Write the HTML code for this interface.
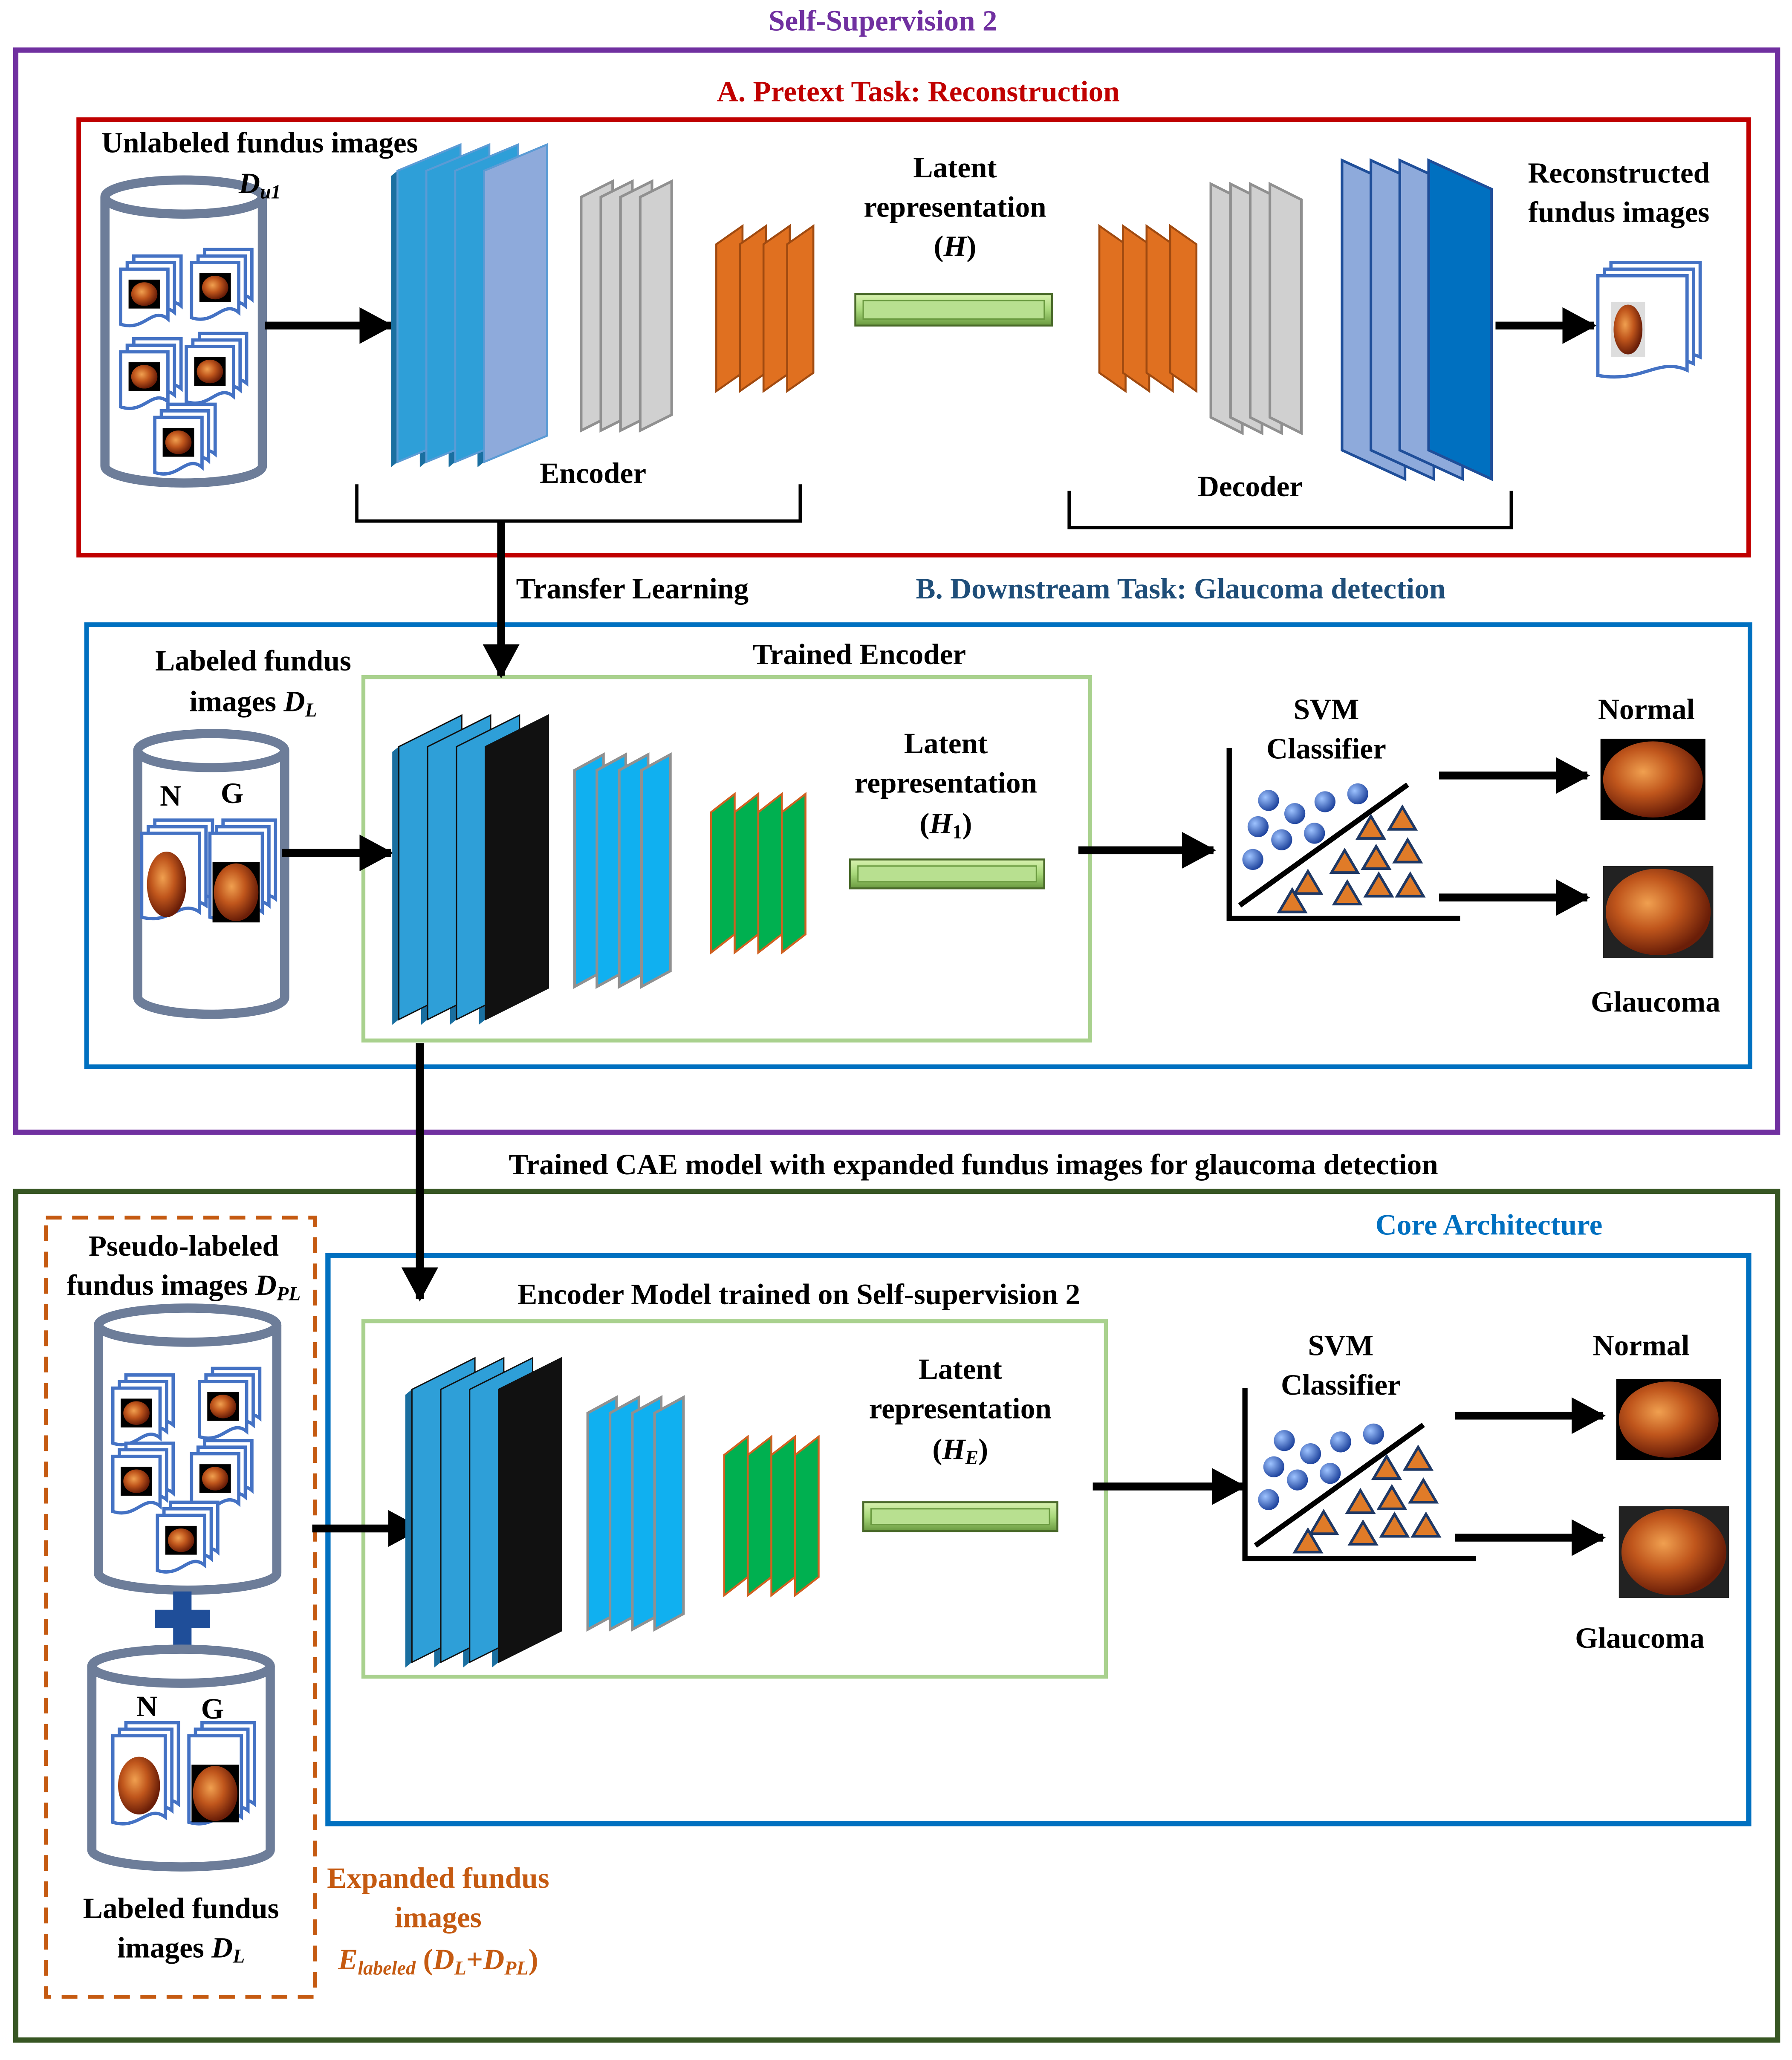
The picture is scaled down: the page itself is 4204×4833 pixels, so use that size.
<!DOCTYPE html>
<html><head><meta charset="utf-8">
<style>
html,body{margin:0;padding:0;background:#fff}
svg{display:block}
text{font-family:"Liberation Serif",serif;font-weight:bold}
</style></head>
<body>
<svg width="4204" height="4833" viewBox="0 0 1366 1570" xmlns="http://www.w3.org/2000/svg" xmlns:xlink="http://www.w3.org/1999/xlink">
<defs>
<radialGradient id="fg" cx="0.4" cy="0.4" r="0.6">
<stop offset="0" stop-color="#f0a050"/><stop offset="0.5" stop-color="#c0561c"/><stop offset="1" stop-color="#6a1e08"/>
</radialGradient>
<linearGradient id="bar" x1="0" y1="0" x2="0" y2="1">
<stop offset="0" stop-color="#d9f2b0"/><stop offset="0.5" stop-color="#a8d87a"/><stop offset="1" stop-color="#6a9a40"/>
</linearGradient>
<radialGradient id="ball" cx="0.35" cy="0.35" r="0.7">
<stop offset="0" stop-color="#9ec3ff"/><stop offset="1" stop-color="#1a3f9a"/>
</radialGradient>
<marker id="ah" markerUnits="userSpaceOnUse" markerWidth="26" markerHeight="28" refX="24" refY="14" orient="auto">
<path d="M0 0L26 14L0 28z" fill="#000"/>
</marker>
<g id="sd">
<path d="M10 -10h36v38c-12 -10 -18 10 -36 4z" fill="#fff" stroke="#4472c4" stroke-width="2.5"/>
<path d="M5 -5h36v38c-12 -10 -18 10 -36 4z" fill="#fff" stroke="#4472c4" stroke-width="2.5"/>
<path d="M0 0h36v38c-12 -10 -18 10 -36 4z" fill="#fff" stroke="#4472c4" stroke-width="2.5"/>
<rect x="6" y="8" width="24" height="22" fill="#000"/>
<ellipse cx="18" cy="19" rx="10" ry="9" fill="url(#fg)"/>
</g>
<g id="encB">
<g fill="#1a6fa0">
<polygon points="299,573 304,569 304,777 299,781"/><polygon points="321,573 326,569 326,777 321,781"/>
<polygon points="343,573 348,569 348,777 343,781"/><polygon points="365,573 370,569 370,777 365,781"/>
</g>
<polygon points="304,569 352,545 352,753 304,777" fill="#2e9fd8" stroke="#111"/>
<polygon points="326,569 374,545 374,753 326,777" fill="#2e9fd8" stroke="#111"/>
<polygon points="348,569 396,545 396,753 348,777" fill="#2e9fd8" stroke="#111"/>
<polygon points="370,569 418,545 418,753 370,777" fill="#111" stroke="#111"/>
<g fill="#10b0f0" stroke="#909090" stroke-width="2">
<polygon points="438,587 460,575 460,740 438,752"/><polygon points="455,587 477,575 477,740 455,752"/>
<polygon points="472,587 494,575 494,740 472,752"/><polygon points="489,587 511,575 511,740 489,752"/>
</g>
<g fill="#00b050" stroke="#d06020" stroke-width="1.5">
<polygon points="542,619 560,605 560,712 542,726"/><polygon points="560,619 578,605 578,712 560,726"/>
<polygon points="578,619 596,605 596,712 578,726"/><polygon points="596,619 614,605 614,712 596,726"/>
</g>
<rect x="648" y="655" width="148" height="22" fill="url(#bar)" stroke="#4a6a2a" stroke-width="1.5"/>
<rect x="654" y="660" width="136" height="12" fill="#b8e090" stroke="#6a9a40"/>
</g>
<g id="clsB">
<path d="M937 570V700H1113" fill="none" stroke="#000" stroke-width="4"/>
<line x1="945" y1="690" x2="1073" y2="598" stroke="#000" stroke-width="4"/>
<g fill="url(#ball)">
<circle cx="967" cy="610" r="8"/><circle cx="987" cy="620" r="8"/><circle cx="1010" cy="611" r="8"/><circle cx="1035" cy="605" r="8"/>
<circle cx="959" cy="630" r="8"/><circle cx="977" cy="640" r="8"/><circle cx="1002" cy="635" r="8"/><circle cx="955" cy="655" r="8"/>
</g>
<g fill="#e07b28" stroke="#1f3864" stroke-width="2">
<polygon points="1069,615 1079,632 1059,632"/><polygon points="1045,622 1055,639 1035,639"/>
<polygon points="1025,648 1035,665 1015,665"/><polygon points="1049,645 1059,662 1039,662"/>
<polygon points="1073,640 1083,657 1063,657"/><polygon points="1075,666 1085,683 1065,683"/>
<polygon points="1051,666 1061,683 1041,683"/><polygon points="1027,672 1037,689 1017,689"/>
<polygon points="997,664 1007,681 987,681"/><polygon points="985,678 995,695 975,695"/>
</g>
<line x1="1097" y1="591" x2="1210" y2="591" stroke="#000" stroke-width="6" marker-end="url(#ah)"/>
<line x1="1097" y1="684" x2="1210" y2="684" stroke="#000" stroke-width="6" marker-end="url(#ah)"/>
<rect x="1220" y="563" width="80" height="62" fill="#000"/>
<ellipse cx="1260" cy="594" rx="38" ry="29" fill="url(#fg)"/>
<rect x="1222" y="660" width="84" height="70" fill="#222"/>
<ellipse cx="1264" cy="695" rx="40" ry="33" fill="url(#fg)"/>
</g>
</defs>

<!-- frames -->
<rect x="12" y="38" width="1343" height="825" fill="none" stroke="#7030a0" stroke-width="4"/>
<rect x="60" y="91" width="1273" height="332" fill="none" stroke="#c00000" stroke-width="3.5"/>
<rect x="66" y="476" width="1268" height="337" fill="none" stroke="#0070c0" stroke-width="3.5"/>
<rect x="277" y="516" width="554" height="277" fill="none" stroke="#a9d18e" stroke-width="3"/>
<rect x="12" y="908" width="1343" height="647" fill="none" stroke="#375623" stroke-width="4"/>
<rect x="250" y="957" width="1083" height="433" fill="none" stroke="#0070c0" stroke-width="4"/>
<rect x="277" y="1007" width="566" height="271" fill="none" stroke="#a9d18e" stroke-width="3"/>
<rect x="35" y="928" width="205" height="594" fill="none" stroke="#c55a11" stroke-width="3" stroke-dasharray="12,8"/>

<!-- Section A -->
<path d="M80 150V355A60 13 0 0 0 200 355V150" fill="#fff" stroke="#6d7d99" stroke-width="7"/>
<ellipse cx="140" cy="150" rx="60" ry="13" fill="#fff" stroke="#6d7d99" stroke-width="7"/>
<use xlink:href="#sd" x="92" y="205"/><use xlink:href="#sd" x="146" y="200"/>
<use xlink:href="#sd" x="92" y="268"/><use xlink:href="#sd" x="142" y="264"/>
<use xlink:href="#sd" x="118" y="318"/>
<line x1="202" y1="248" x2="298" y2="248" stroke="#000" stroke-width="6" marker-end="url(#ah)"/>
<g fill="#1a6fa0">
<polygon points="298,134 303,130 303,352 298,356"/><polygon points="320,134 325,130 325,352 320,356"/>
<polygon points="342,134 347,130 347,352 342,356"/><polygon points="364,134 369,130 369,352 364,356"/>
</g>
<g stroke="#5b9bd5" stroke-width="1.5">
<polygon points="303,130 351,110 351,332 303,352" fill="#2e9fd8"/>
<polygon points="325,130 373,110 373,332 325,352" fill="#2e9fd8"/>
<polygon points="347,130 395,110 395,332 347,352" fill="#2e9fd8"/>
<polygon points="369,130 417,110 417,332 369,352" fill="#8eaadb"/>
</g>
<g fill="#d0d0d0" stroke="#909090" stroke-width="2">
<polygon points="443,150 467,138 467,316 443,328"/><polygon points="458,150 482,138 482,316 458,328"/>
<polygon points="473,150 497,138 497,316 473,328"/><polygon points="488,150 512,138 512,316 488,328"/>
</g>
<g fill="#e07020" stroke="#a04a10" stroke-width="1.5">
<polygon points="546,186 566,172 566,284 546,298"/><polygon points="564,186 584,172 584,284 564,298"/>
<polygon points="582,186 602,172 602,284 582,298"/><polygon points="600,186 620,172 620,284 600,298"/>
</g>
<rect x="652" y="224" width="150" height="24" fill="url(#bar)" stroke="#4a6a2a" stroke-width="1.5"/>
<rect x="658" y="229" width="138" height="14" fill="#b8e090" stroke="#6a9a40"/>
<g fill="#e07020" stroke="#a04a10" stroke-width="1.5">
<polygon points="838,172 858,186 858,298 838,284"/><polygon points="856,172 876,186 876,298 856,284"/>
<polygon points="874,172 894,186 894,298 874,284"/><polygon points="892,172 912,186 912,298 892,284"/>
</g>
<g fill="#d0d0d0" stroke="#909090" stroke-width="2">
<polygon points="923,140 947,152 947,330 923,318"/><polygon points="938,140 962,152 962,330 938,318"/>
<polygon points="953,140 977,152 977,330 953,318"/><polygon points="968,140 992,152 992,330 968,318"/>
</g>
<g stroke="#1f4e99" stroke-width="2">
<polygon points="1023,122 1071,144 1071,365 1023,343" fill="#8eaadb"/>
<polygon points="1045,122 1093,144 1093,365 1045,343" fill="#8eaadb"/>
<polygon points="1067,122 1115,144 1115,365 1067,343" fill="#8eaadb"/>
<polygon points="1089,122 1137,144 1137,365 1089,343" fill="#0070c0"/>
</g>
<line x1="1140" y1="248" x2="1215" y2="248" stroke="#000" stroke-width="6" marker-end="url(#ah)"/>
<g fill="#fff" stroke="#4472c4" stroke-width="2.5">
<path d="M1228 200h68v72c-22 -10 -34 10 -68 4z"/>
<path d="M1223 205h68v72c-22 -10 -34 10 -68 4z"/>
<path d="M1218 210h68v72c-22 -10 -34 10 -68 4z"/>
</g>
<rect x="1228" y="230" width="26" height="42" fill="#ddd"/>
<ellipse cx="1241" cy="251" rx="11" ry="19" fill="url(#fg)"/>
<path d="M272 369V397H610V369" fill="none" stroke="#000" stroke-width="2.5"/>
<path d="M815 374V402H1152V374" fill="none" stroke="#000" stroke-width="2.5"/>
<line x1="382" y1="398" x2="382" y2="515" stroke="#000" stroke-width="6" marker-end="url(#ah)"/>

<!-- Section B -->
<path d="M105 572V760A56 13 0 0 0 217 760V572" fill="#fff" stroke="#6d7d99" stroke-width="7"/>
<ellipse cx="161" cy="572" rx="56" ry="13" fill="#fff" stroke="#6d7d99" stroke-width="7"/>
<g fill="#fff" stroke="#4472c4" stroke-width="2.5">
<path d="M118 625h44v60c-15 -10 -22 10 -44 4z"/><path d="M113 630h44v60c-15 -10 -22 10 -44 4z"/><path d="M108 635h44v60c-15 -10 -22 10 -44 4z"/>
<path d="M170 625h40v60c-13 -10 -20 10 -40 4z"/><path d="M165 630h40v60c-13 -10 -20 10 -40 4z"/><path d="M160 635h40v60c-13 -10 -20 10 -40 4z"/>
</g>
<ellipse cx="127" cy="674" rx="15" ry="25" fill="url(#fg)"/>
<rect x="162" y="657" width="36" height="46" fill="#000"/>
<ellipse cx="180" cy="680" rx="17" ry="22" fill="url(#fg)"/>
<line x1="215" y1="650" x2="298" y2="650" stroke="#000" stroke-width="6" marker-end="url(#ah)"/>
<use xlink:href="#encB"/>
<line x1="822" y1="648" x2="925" y2="648" stroke="#000" stroke-width="6" marker-end="url(#ah)"/>
<use xlink:href="#clsB"/>
<line x1="320" y1="795" x2="320" y2="990" stroke="#000" stroke-width="6" marker-end="url(#ah)"/>

<!-- Core -->
<path d="M75 1010V1199A68 13 0 0 0 211 1199V1010" fill="#fff" stroke="#6d7d99" stroke-width="7"/>
<ellipse cx="143" cy="1010" rx="68" ry="13" fill="#fff" stroke="#6d7d99" stroke-width="7"/>
<use xlink:href="#sd" x="86" y="1058"/><use xlink:href="#sd" x="152" y="1053"/>
<use xlink:href="#sd" x="86" y="1110"/><use xlink:href="#sd" x="146" y="1108"/>
<use xlink:href="#sd" x="120" y="1155"/>
<path d="M132 1213h14v14h14v14h-14v14h-14v-14h-14v-14h14z" fill="#1f4e99"/>
<path d="M70 1270V1410A68 13 0 0 0 206 1410V1270" fill="#fff" stroke="#6d7d99" stroke-width="7"/>
<ellipse cx="138" cy="1270" rx="68" ry="13" fill="#fff" stroke="#6d7d99" stroke-width="7"/>
<g fill="#fff" stroke="#4472c4" stroke-width="2.5">
<path d="M96 1313h40v62c-13 -10 -20 10 -40 4z"/><path d="M91 1318h40v62c-13 -10 -20 10 -40 4z"/><path d="M86 1323h40v62c-13 -10 -20 10 -40 4z"/>
<path d="M154 1313h40v62c-13 -10 -20 10 -40 4z"/><path d="M149 1318h40v62c-13 -10 -20 10 -40 4z"/><path d="M144 1323h40v62c-13 -10 -20 10 -40 4z"/>
</g>
<ellipse cx="106" cy="1361" rx="16" ry="22" fill="url(#fg)"/>
<rect x="146" y="1345" width="36" height="44" fill="#000"/>
<ellipse cx="164" cy="1367" rx="17" ry="21" fill="url(#fg)"/>
<line x1="238" y1="1165" x2="320" y2="1165" stroke="#000" stroke-width="6" marker-end="url(#ah)"/>
<use xlink:href="#encB" transform="translate(10,490)"/>
<line x1="833" y1="1133" x2="948" y2="1133" stroke="#000" stroke-width="6" marker-end="url(#ah)"/>
<use xlink:href="#clsB" transform="translate(12,488)"/>

<!-- texts -->
<g font-size="22.5">
<text x="673" y="23" text-anchor="middle" fill="#7030a0">Self-Supervision 2</text>
<text x="700" y="77" text-anchor="middle" fill="#c00000">A.  Pretext Task: Reconstruction</text>
<text x="198" y="116" text-anchor="middle">Unlabeled fundus images</text>
<text x="198" y="147" text-anchor="middle" font-style="italic">D<tspan font-size="15" dy="4">u1</tspan></text>
<text x="728" y="135" text-anchor="middle">Latent</text>
<text x="728" y="165" text-anchor="middle">representation</text>
<text x="728" y="195" text-anchor="middle">(<tspan font-style="italic">H</tspan>)</text>
<text x="1234" y="139" text-anchor="middle">Reconstructed</text>
<text x="1234" y="169" text-anchor="middle">fundus images</text>
<text x="452" y="368" text-anchor="middle">Encoder</text>
<text x="953" y="378" text-anchor="middle">Decoder</text>
<text x="482" y="456" text-anchor="middle">Transfer Learning</text>
<text x="900" y="456" text-anchor="middle" fill="#1f4e79">B.  Downstream Task: Glaucoma detection</text>
<text x="655" y="506" text-anchor="middle">Trained Encoder</text>
<text x="193" y="511" text-anchor="middle">Labeled fundus</text>
<text x="193" y="542" text-anchor="middle">images <tspan font-style="italic">D<tspan font-size="15" dy="4">L</tspan></tspan></text>
<text x="130" y="614" text-anchor="middle">N</text><text x="177" y="612" text-anchor="middle">G</text>
<text x="721" y="574" text-anchor="middle">Latent</text>
<text x="721" y="604" text-anchor="middle">representation</text>
<text x="721" y="635" text-anchor="middle">(<tspan font-style="italic">H</tspan><tspan font-size="15" dy="4">1</tspan><tspan dy="-4">)</tspan></text>
<text x="1011" y="548" text-anchor="middle">SVM</text>
<text x="1011" y="578" text-anchor="middle">Classifier</text>
<text x="1255" y="548" text-anchor="middle">Normal</text>
<text x="1262" y="771" text-anchor="middle">Glaucoma</text>
<text x="742" y="895" text-anchor="middle">Trained CAE model with expanded fundus images for glaucoma detection</text>
<text x="1135" y="941" text-anchor="middle" fill="#0070c0">Core Architecture</text>
<text x="609" y="994" text-anchor="middle">Encoder Model trained on Self-supervision 2</text>
<text x="140" y="957" text-anchor="middle">Pseudo-labeled</text>
<text x="140" y="987" text-anchor="middle">fundus images <tspan font-style="italic">D<tspan font-size="15" dy="4">PL</tspan></tspan></text>
<text x="732" y="1051" text-anchor="middle">Latent</text>
<text x="732" y="1081" text-anchor="middle">representation</text>
<text x="732" y="1112" text-anchor="middle">(<tspan font-style="italic">H</tspan><tspan font-size="15" dy="4" font-style="italic">E</tspan><tspan dy="-4">)</tspan></text>
<text x="1022" y="1033" text-anchor="middle">SVM</text>
<text x="1022" y="1063" text-anchor="middle">Classifier</text>
<text x="1251" y="1033" text-anchor="middle">Normal</text>
<text x="1250" y="1256" text-anchor="middle">Glaucoma</text>
<text x="112" y="1308" text-anchor="middle">N</text><text x="162" y="1310" text-anchor="middle">G</text>
<text x="138" y="1462" text-anchor="middle">Labeled fundus</text>
<text x="138" y="1492" text-anchor="middle">images <tspan font-style="italic">D<tspan font-size="15" dy="4">L</tspan></tspan></text>
<text x="334" y="1439" text-anchor="middle" fill="#c55a11">Expanded fundus</text>
<text x="334" y="1469" text-anchor="middle" fill="#c55a11">images</text>
<text x="334" y="1501" text-anchor="middle" fill="#c55a11"><tspan font-style="italic">E<tspan font-size="15" dy="4">labeled</tspan></tspan><tspan dy="-4"> (</tspan><tspan font-style="italic">D<tspan font-size="15" dy="4">L</tspan></tspan><tspan dy="-4">+</tspan><tspan font-style="italic">D<tspan font-size="15" dy="4">PL</tspan></tspan><tspan dy="-4">)</tspan></text>
</g>
</svg>
</body></html>
